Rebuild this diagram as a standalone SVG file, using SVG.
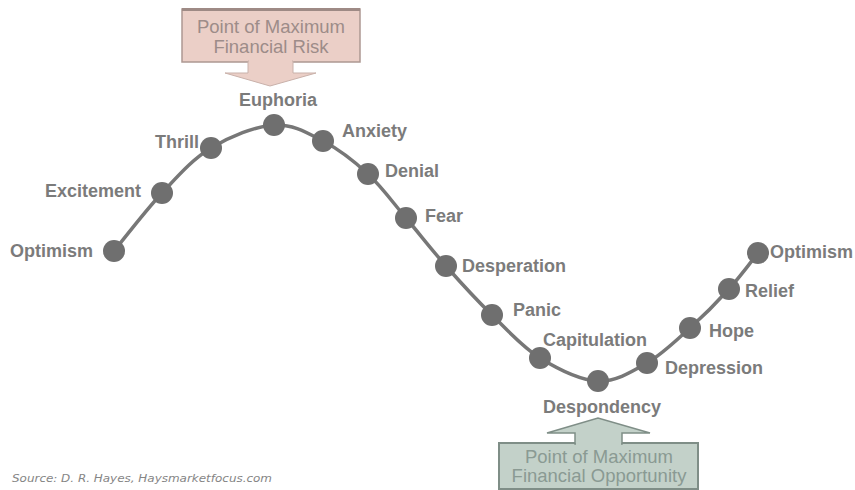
<svg xmlns="http://www.w3.org/2000/svg" width="855" height="490" viewBox="0 0 855 490">
<style>
.lbl{font-family:"Liberation Sans",Arial,sans-serif;font-weight:bold;font-size:18px;fill:#7b7b7b}
.box{font-family:"Liberation Sans",Arial,sans-serif;font-size:18.5px;text-anchor:middle}
.dot{fill:#6f6f6f}
.src{font-family:"DejaVu Sans",Verdana,sans-serif;font-style:italic;font-size:10.5px;fill:#858585}
</style>
<rect width="855" height="490" fill="#ffffff"/>
<g id="risk-callout">
<rect x="182" y="9" width="178" height="53" fill="#ebcfc7" stroke="#ad9892" stroke-width="1.5"/>
<line x1="182" y1="9.5" x2="360" y2="9.5" stroke="#9e8a85" stroke-width="3"/>
<path d="M248,61 L248,73 L225,73 L270,86 L316,73 L293,73 L293,61 Z" fill="#ebcfc7" stroke="#c9b1aa" stroke-width="1"/>
<rect x="249" y="60" width="43" height="4" fill="#ebcfc7"/>
<text class="box" x="271" y="33" fill="#9d8c89">Point of Maximum</text>
<text class="box" x="271" y="53" fill="#9d8c89">Financial Risk</text>
</g>
<g id="opportunity-callout">
<rect x="499" y="443" width="199" height="46" fill="#c3d1c9" stroke="#7f8e87" stroke-width="2"/>
<path d="M575,444 L575,433 L547,433 L598,418 L650,433 L622,433 L622,444 Z" fill="#c3d1c9" stroke="#7f8e87" stroke-width="1.5"/>
<rect x="576" y="440" width="45" height="6" fill="#c3d1c9"/>
<text class="box" x="599" y="463" fill="#8a9a93">Point of Maximum</text>
<text class="box" x="599" y="482" fill="#8a9a93">Financial Opportunity</text>
</g>
<g id="connectors">
<path d="M114,251 C122,241.3 145.8,210.2 162,193 C178.2,175.8 192.3,159.3 211,148 C229.7,136.7 255.3,126.2 274,125 C292.7,123.8 307.3,132.8 323,141 C338.7,149.2 354.2,161.2 368,174 C381.8,186.8 393,202.7 406,218 C419,233.3 431.7,249.8 446,266 C460.3,282.2 476.3,299.7 492,315 C507.7,330.3 522.3,347 540,358 C557.7,369 580.2,380.2 598,381 C615.8,381.8 631.7,371.8 647,363 C662.3,354.2 676.3,340.3 690,328 C703.7,315.7 717.7,301.5 729,289 C740.3,276.5 753.2,259 758,253" fill="none" stroke="#777777" stroke-width="3.5" stroke-linecap="round"/>
</g>
<g id="n-optimism1"><circle class="dot" cx="114" cy="251" r="11"/><text class="lbl" x="10" y="257">Optimism</text></g>
<g id="n-excitement"><circle class="dot" cx="162" cy="193" r="11"/><text class="lbl" x="45" y="197">Excitement</text></g>
<g id="n-thrill"><circle class="dot" cx="211" cy="148" r="11"/><text class="lbl" x="155" y="148">Thrill</text></g>
<g id="n-euphoria"><circle class="dot" cx="274" cy="125" r="11"/><text class="lbl" x="278" y="106" text-anchor="middle">Euphoria</text></g>
<g id="n-anxiety"><circle class="dot" cx="323" cy="141" r="11"/><text class="lbl" x="342" y="137">Anxiety</text></g>
<g id="n-denial"><circle class="dot" cx="368" cy="174" r="11"/><text class="lbl" x="385" y="177">Denial</text></g>
<g id="n-fear"><circle class="dot" cx="406" cy="218" r="11"/><text class="lbl" x="425" y="222">Fear</text></g>
<g id="n-desperation"><circle class="dot" cx="446" cy="266" r="11"/><text class="lbl" x="462" y="272">Desperation</text></g>
<g id="n-panic"><circle class="dot" cx="492" cy="315" r="11"/><text class="lbl" x="513" y="316">Panic</text></g>
<g id="n-capitulation"><circle class="dot" cx="540" cy="358" r="11"/><text class="lbl" x="543" y="346">Capitulation</text></g>
<g id="n-despondency"><circle class="dot" cx="598" cy="381" r="11"/><text class="lbl" x="602" y="413" text-anchor="middle">Despondency</text></g>
<g id="n-depression"><circle class="dot" cx="647" cy="363" r="11"/><text class="lbl" x="665" y="374">Depression</text></g>
<g id="n-hope"><circle class="dot" cx="690" cy="328" r="11"/><text class="lbl" x="709" y="337">Hope</text></g>
<g id="n-relief"><circle class="dot" cx="729" cy="289" r="11"/><text class="lbl" x="745" y="297">Relief</text></g>
<g id="n-optimism2"><circle class="dot" cx="758" cy="253" r="11"/><text class="lbl" x="770" y="258">Optimism</text></g>
<text class="src" x="12" y="482" textLength="260" lengthAdjust="spacingAndGlyphs">Source:  D. R. Hayes, Haysmarketfocus.com</text>
</svg>
